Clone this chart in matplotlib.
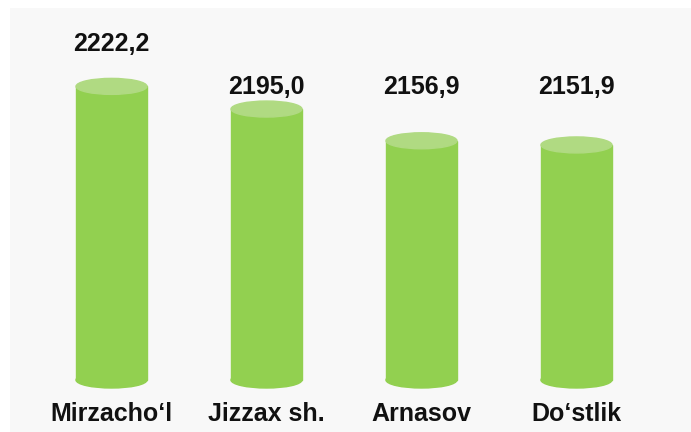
import matplotlib.pyplot as plt
from matplotlib.patches import Rectangle, Ellipse
from matplotlib.transforms import blended_transform_factory

plt.rcParams['font.family'] = ['Liberation Sans', 'DejaVu Sans']

districts = ["Mirzacho\u2018l", "Jizzax sh.", "Arnasov", "Do\u2018stlik"]
values = [2222.2, 2195.0, 2156.9, 2151.9]
value_labels = ["2222,2", "2195,0", "2156,9", "2151,9"]

body_color = '#92d050'
top_color = '#b0da82'

W, H = 691, 432
fig = plt.figure(figsize=(W / 100, H / 100), dpi=100)
fig.patch.set_facecolor('white')

# light grey slide background, leaving a thin white margin top/left
bg = fig.add_axes([10 / W, 0, 1 - 10 / W, (H - 8) / H], zorder=-1)
bg.set_facecolor('#f8f8f8')
bg.set_xticks([])
bg.set_yticks([])
for s in bg.spines.values():
    s.set_visible(False)

ax = fig.add_axes([10 / W, 52 / H, 681 / W, 372 / H])
ax.set_facecolor('none')
ax.set_xlim(-0.655, 3.739)
ax.set_ylim(1869.7, 2316.3)
for s in ax.spines.values():
    s.set_visible(False)
ax.set_yticks([])

y0 = ax.get_ylim()[0]
px_per_unit = ax.bbox.height / (ax.get_ylim()[1] - y0)
ell_h = 16 / px_per_unit
bar_w = 0.458

for i, v in enumerate(values):
    ax.add_patch(Ellipse((i, y0), bar_w, ell_h, color=body_color, clip_on=False, zorder=2))
    ax.add_patch(Rectangle((i - bar_w / 2, y0), bar_w, v - y0, color=body_color,
                           clip_on=False, zorder=2))
    ax.add_patch(Ellipse((i, v), bar_w, ell_h, color=top_color, clip_on=False, zorder=3))

# value labels: first one sits above its bar, the rest share a row
trans = blended_transform_factory(ax.transData, ax.transAxes)
label_rows = [0.903, 0.788, 0.788, 0.788]
for i, (txt, yy) in enumerate(zip(value_labels, label_rows)):
    ax.text(i, yy, txt, transform=trans, ha='center', va='center',
            fontsize=18, fontweight='bold', color='#111111')

ax.set_xticks(range(len(districts)))
ax.set_xticklabels(districts, fontsize=18, fontweight='bold', color='#111111')
ax.tick_params(axis='x', length=0, pad=16)

fig.savefig('out.png', dpi=100)
